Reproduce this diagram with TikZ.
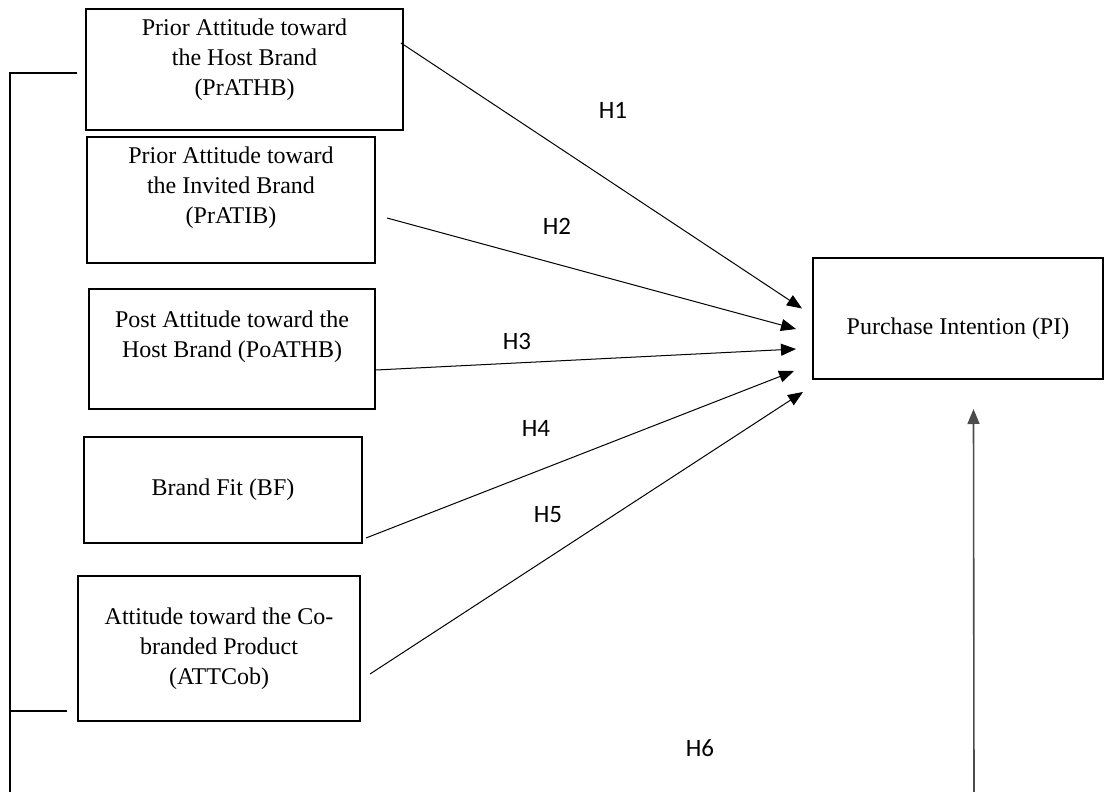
\documentclass[tikz,border=0pt]{standalone}
\usepackage{fontspec}
\setmainfont{Liberation Serif}
\newfontfamily\hfont{Carlito}
\usepackage{tikz}
\usetikzlibrary{arrows.meta,positioning,calc}
\tikzset{
  box/.style={draw, line width=1pt, align=center, fill=white, inner sep=2pt,
    font=\fontsize{12}{15}\selectfont},
  hyp/.style={font=\hfont\fontsize{12.5}{14}\selectfont},
  arrow/.style={-{Triangle[length=7.5pt,width=6pt]}, line width=0.5pt},
  link/.style={line width=0.6pt},
}

\begin{document}
\begin{tikzpicture}[x=0.5pt, y=-0.5pt]
  \useasboundingbox (0,0) rectangle (1105,792);

  \node[box, minimum width=158.5pt, minimum height=60.5pt] (prathb) at (244.5,69.5)
    {Prior Attitude toward\\the Host Brand\\(PrATHB)\\[-3pt]\mbox{}};
  \node[box, minimum width=144pt, minimum height=63pt] (pratib) at (231,200)
    {Prior Attitude toward\\the Invited Brand\\(PrATIB)\\\mbox{}};
  \node[box, minimum width=143pt, minimum height=60pt] (poathb) at (232,349)
    {Post Attitude toward the\\Host Brand (PoATHB)\\\mbox{}};
  \node[box, minimum width=139pt, minimum height=53pt] (bf) at (223,490)
    {Brand Fit (BF)};
  \node[box, minimum width=141pt, minimum height=72.5pt] (attcob) at (219,648.5)
    {Attitude toward the Co-\\branded Product\\(ATTCob)};
  \node[box, minimum width=145pt, minimum height=60.5pt, text height=19.5pt, text depth=3pt] (pi) at (958,318.5)
    {Purchase Intention (PI)};

  \coordinate (lfoot) at (10,792);
  \coordinate (h6foot) at (974,792);

  % hypotheses
  \draw[arrow] ([shift={(-1.5pt,13.25pt)}]prathb.east) -- ([shift={(-5pt,5pt)}]pi.west);
  \draw[arrow] ([shift={(5.5pt,-9pt)}]pratib.east) -- ([shift={(-8pt,-5.25pt)}]pi.west);
  \draw[arrow] ([shift={(0pt,-10.5pt)}]poathb.east) -- ([shift={(-8pt,-15.25pt)}]pi.west);
  \draw[arrow] ([shift={(1.5pt,-24pt)}]bf.east) -- ([shift={(-9pt,-26.25pt)}]pi.west);
  \draw[arrow] ([shift={(4.5pt,-12.75pt)}]attcob.east) -- ([shift={(-4.5pt,-36.75pt)}]pi.west);

  \node[hyp] (h1) at (613,110) {H1};
  \node[hyp] (h2) at (557,226) {H2};
  \node[hyp] (h3) at (517,341) {H3};
  \node[hyp] (h4) at (536,428) {H4};
  \node[hyp] (h5) at (548,515) {H5};
  \node[hyp] (h6) at (700,748) {H6};

  % bracket on the left + H6
  \draw[link] ([shift={(-4pt,-1.75pt)}]prathb.west) -| (lfoot);
  \draw[link] ([shift={(-5pt,-31.25pt)}]attcob.west) -| (lfoot);
  \draw[arrow, line width=0.8pt, black!70] (h6foot) -- ([shift={(7.75pt,-14.5pt)}]pi.south);
\end{tikzpicture}
\end{document}
